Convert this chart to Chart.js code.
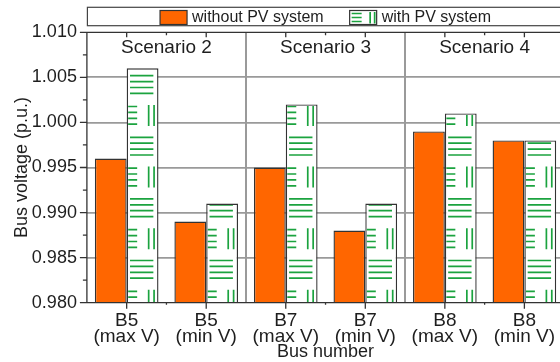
<!DOCTYPE html>
<html>
<head>
<meta charset="utf-8">
<script src="https://cdn.jsdelivr.net/npm/chart.js@4"></script>
<style>
  html, body { margin: 0; padding: 0; overflow: hidden; background: #fff; }
  #wrap { width: 565px; height: 362px; }
</style>
</head>
<body>
<div id="wrap"><canvas id="busChart" width="565" height="362"></canvas></div>
<script>
// Bus voltages per scenario, with and without the PV system
var categories = [
    ['B5', '(max V)'], ['B5', '(min V)'],
    ['B7', '(max V)'], ['B7', '(min V)'],
    ['B8', '(max V)'], ['B8', '(min V)']
];
var scenarios = ['Scenario 2', 'Scenario 3', 'Scenario 4'];
var withoutPV = [0.996, 0.989, 0.995, 0.988, 0.999, 0.998];
var withPV = [1.006, 0.991, 1.002, 0.991, 1.001, 0.998];
var yMin = 0.980, yMax = 1.010, yStep = 0.005;

var FONT = '"Liberation Sans", Arial, sans-serif';
var INK = '#1e1e1e';
var FRAME = '#333';
var ORANGE = '#ff6600';
var GREEN = '#1ba33f';

// green "weave" hatch: rows of horizontal dashes alternating with short dashes + two uprights
function drawWeave(ctx, left, top, width, bottom) {
    var period = 61.6, origin = 75.7;
    var y0 = origin - period * Math.ceil((origin - top) / period + 1);
    ctx.save();
    ctx.beginPath();
    ctx.rect(left + 1.5, top + 1.5, width - 3, bottom - top - 1.5);
    ctx.clip();
    ctx.strokeStyle = GREEN;
    ctx.lineWidth = 1.7;
    ctx.beginPath();
    for (var y = y0; y < bottom; y += period) {
        var ym = y + period / 2;
        for (var i = 0; i < 4; i++) {
            var d = i * 5.9;
            ctx.moveTo(left + 3.3, y + d); ctx.lineTo(left + 26.7, y + d);
            ctx.moveTo(left - 2, ym + d); ctx.lineTo(left + 10.5, ym + d);
        }
        ctx.moveTo(left + 22, ym - 1.5); ctx.lineTo(left + 22, ym + 19.5);
        ctx.moveTo(left + 27.4, ym - 1.5); ctx.lineTo(left + 27.4, ym + 19.5);
    }
    ctx.stroke();
    ctx.restore();
}

var decorations = {
    id: 'decorations',
    afterDatasetsDraw: function (chart) {
        var ctx = chart.ctx, area = chart.chartArea, ys = chart.scales.y;

        chart.getDatasetMeta(1).data.forEach(function (bar) {
            var p = bar.getProps(['x', 'y', 'base', 'width'], true);
            drawWeave(ctx, p.x - p.width / 2, p.y, p.width, Math.min(p.base, area.bottom));
        });

        // axis frame and tick marks
        var step = (area.right - area.left) / categories.length;
        ctx.save();
        ctx.strokeStyle = FRAME;
        ctx.lineWidth = 1.3;
        ctx.beginPath();
        ctx.moveTo(area.left, area.top); ctx.lineTo(area.left, area.bottom);
        ctx.moveTo(area.left, area.bottom); ctx.lineTo(area.right, area.bottom);
        ctx.moveTo(area.left, area.top); ctx.lineTo(area.right, area.top);
        ctx.moveTo(area.right, area.top); ctx.lineTo(area.right, area.bottom);
        for (var i = 0; i < categories.length; i++) {
            var cx = area.left + (i + 0.5) * step;
            ctx.moveTo(cx, area.bottom); ctx.lineTo(cx, area.bottom + 6);
            ctx.moveTo(cx, area.top); ctx.lineTo(cx, area.top + 5);
            if (i % 2 === 0) {
                var bx = area.left + (i + 1) * step;
                ctx.moveTo(bx, area.bottom); ctx.lineTo(bx, area.bottom + 2);
                ctx.moveTo(bx, area.top); ctx.lineTo(bx, area.top + 3);
            }
        }
        var n = Math.round((yMax - yMin) / (yStep / 2));
        for (var j = 0; j <= n; j++) {
            var py = ys.getPixelForValue(yMin + j * yStep / 2);
            ctx.moveTo(area.left, py);
            ctx.lineTo(area.left - (j % 2 === 0 ? 7 : 4), py);
        }
        ctx.stroke();

        // scenario headers
        ctx.fillStyle = INK;
        ctx.font = '19px ' + FONT;
        ctx.textAlign = 'center';
        ctx.textBaseline = 'middle';
        scenarios.forEach(function (s, k) {
            ctx.fillText(s, area.left + (2 * k + 1) * step, 48);
        });
        ctx.restore();
    },
    afterDraw: function (chart) {
        var ctx = chart.ctx, area = chart.chartArea;
        var sets = chart.data.datasets;
        ctx.save();
        ctx.fillStyle = '#fff';
        ctx.fillRect(area.left, 7.3, chart.width, 18.4);
        ctx.strokeStyle = '#444';
        ctx.lineWidth = 1.2;
        ctx.strokeRect(area.left + 0.5, 7.3, chart.width, 18.4);

        ctx.font = '16px ' + FONT;
        ctx.textBaseline = 'middle';
        var sw = 27, gapText = 5, gapItem = 26;
        var w0 = ctx.measureText(sets[0].label).width;
        var w1 = ctx.measureText(sets[1].label).width;
        var total = sw + gapText + w0 + gapItem + sw + gapText + w1;
        var x = (area.left + area.right) / 2 - total / 2;
        var y = 10.5, h = 14;

        ctx.fillStyle = ORANGE;
        ctx.fillRect(x, y, sw, h);
        ctx.strokeStyle = FRAME;
        ctx.strokeRect(x, y, sw, h);
        ctx.fillStyle = INK;
        ctx.fillText(sets[0].label, x + sw + gapText, 17.5);

        x += sw + gapText + w0 + gapItem;
        ctx.fillStyle = '#fff';
        ctx.fillRect(x, y, sw, h);
        ctx.strokeStyle = GREEN;
        ctx.lineWidth = 1.7;
        ctx.beginPath();
        [13.5, 17.5, 21.5].forEach(function (ly) {
            ctx.moveTo(x + 2, ly); ctx.lineTo(x + 12, ly);
        });
        ctx.moveTo(x + 20.5, 12); ctx.lineTo(x + 20.5, 23.5);
        ctx.moveTo(x + 25, 12); ctx.lineTo(x + 25, 23.5);
        ctx.stroke();
        ctx.strokeStyle = FRAME;
        ctx.lineWidth = 1.2;
        ctx.strokeRect(x, y, sw, h);
        ctx.fillStyle = INK;
        ctx.fillText(sets[1].label, x + sw + gapText, 17.5);
        ctx.restore();
    }
};

var ctx = document.getElementById('busChart').getContext('2d');
var busChart = new Chart(ctx, {
    type: 'bar',
    data: {
        labels: categories,
        datasets: [{
            label: 'without PV system',
            data: withoutPV,
            backgroundColor: ORANGE,
            borderColor: FRAME,
            borderWidth: 1.4
        }, {
            label: 'with PV system',
            data: withPV,
            backgroundColor: '#ffffff',
            borderColor: FRAME,
            borderWidth: 1.4
        }]
    },
    options: {
        responsive: false,
        animation: false,
        layout: { padding: { top: 32.3, left: 0, right: 0, bottom: 0 } },
        datasets: { bar: { categoryPercentage: 0.8, barPercentage: 1.0 } },
        plugins: {
            legend: { display: false },
            tooltip: { enabled: false }
        },
        scales: {
            x: {
                offset: true,
                border: { display: false },
                grid: {
                    offset: true,
                    drawTicks: false,
                    lineWidth: 2,
                    color: function (c) {
                        return (c.index === 2 || c.index === 4) ? '#9a9a9a' : 'rgba(0,0,0,0)';
                    }
                },
                ticks: {
                    color: INK,
                    padding: 10,
                    maxRotation: 0,
                    autoSkip: false,
                    font: { family: FONT, size: 19, lineHeight: 0.84 }
                },
                title: {
                    display: true,
                    text: 'Bus number',
                    color: INK,
                    padding: { top: 0, bottom: 0 },
                    font: { family: FONT, size: 18, lineHeight: 1.1 }
                },
                afterFit: function (scale) { scale.height = 59.3; }
            },
            y: {
                min: yMin,
                max: yMax,
                border: { display: false },
                grid: {
                    drawTicks: false,
                    lineWidth: 1.8,
                    color: function (c) {
                        var v = c.tick ? c.tick.value : null;
                        if (v === null || Math.abs(v - yMin) < 1e-6 || Math.abs(v - yMax) < 1e-6) return 'rgba(0,0,0,0)';
                        return '#9a9a9a';
                    }
                },
                ticks: {
                    stepSize: yStep,
                    color: INK,
                    padding: 10,
                    font: { family: FONT, size: 18 },
                    callback: function (v) { return Number(v).toFixed(3); }
                },
                title: {
                    display: true,
                    text: 'Bus voltage (p.u.)',
                    color: INK,
                    padding: { top: 11, bottom: 0 },
                    font: { family: FONT, size: 18 }
                },
                afterFit: function (scale) { scale.width = 86.9; }
            }
        }
    },
    plugins: [decorations]
});
</script>
</body>
</html>
